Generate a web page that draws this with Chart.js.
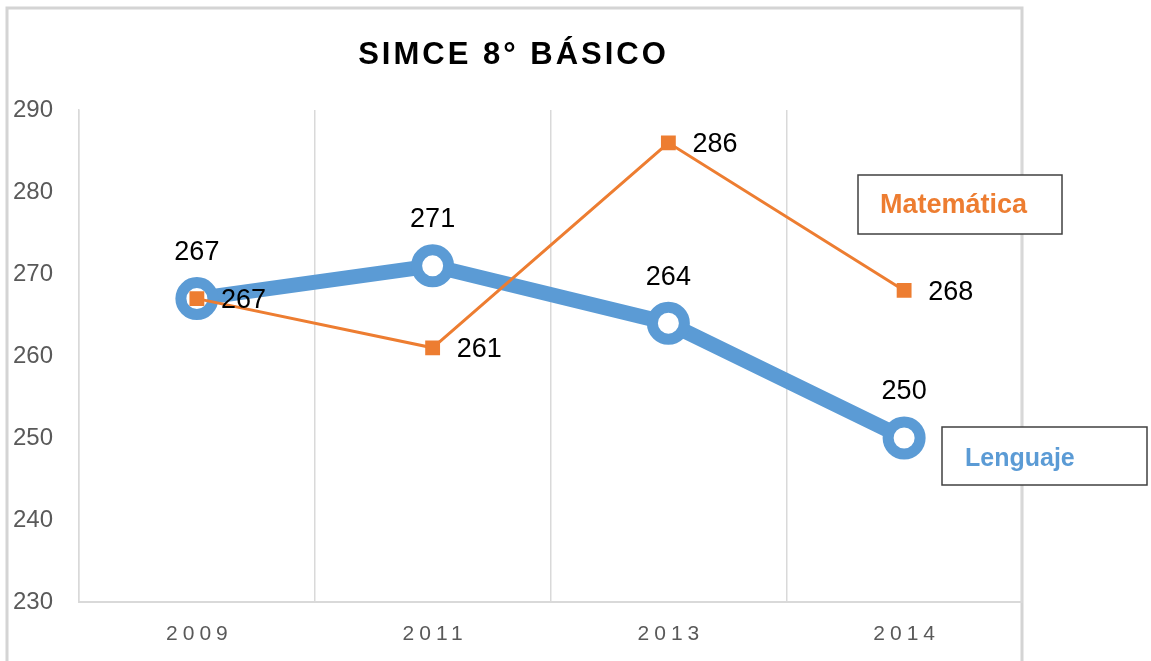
<!DOCTYPE html>
<html>
<head>
<meta charset="utf-8">
<script src="https://cdn.jsdelivr.net/npm/chart.js@4.4.1/dist/chart.umd.min.js"></script>
<style>
  html, body { margin: 0; padding: 0; background: #fff; }
  #wrap { width: 1151px; height: 661px; position: relative; }
</style>
</head>
<body>
<div id="wrap"><canvas id="chart"></canvas></div>
<script>
// values
const years = ['2009', '2011', '2013', '2014'];
const lenguaje = [267, 271, 264, 250];
const matematica = [267, 261, 286, 268];
const yTicks = [230, 240, 250, 260, 270, 280, 290];
const chartTitle = 'SIMCE 8° BÁSICO';

const BLUE = '#5B9BD5';
const ORANGE = '#ED7D31';
const GRAY_TEXT = '#595959';
const GRID = '#d9d9d9';

// frame, title, spaced year labels, value labels and the two name boxes
const decorations = {
    id: 'decorations',
    beforeDraw(chart) {
        const ctx = chart.ctx;
        ctx.save();
        ctx.fillStyle = '#fff';
        ctx.fillRect(0, 0, chart.width, chart.height);
        ctx.strokeStyle = '#d4d4d4';
        ctx.lineWidth = 3;
        ctx.beginPath();
        ctx.moveTo(7, chart.height);
        ctx.lineTo(7, 8);
        ctx.lineTo(1022, 8);
        ctx.lineTo(1022, chart.height);
        ctx.stroke();
        ctx.restore();
    },
    afterDraw(chart) {
        const ctx = chart.ctx;
        const x = chart.scales.x;
        ctx.save();

        // title
        ctx.fillStyle = '#000';
        ctx.font = 'bold 31px "Liberation Sans", Arial, sans-serif';
        ctx.letterSpacing = '3px';
        ctx.textAlign = 'center';
        ctx.textBaseline = 'middle';
        ctx.fillText(chartTitle, 512 + 1.5, 55);

        // category labels, letter spaced
        ctx.fillStyle = GRAY_TEXT;
        ctx.font = '21px "Liberation Sans", Arial, sans-serif';
        ctx.letterSpacing = '5px';
        years.forEach((yr, i) => {
            ctx.fillText(yr, x.getPixelForValue(i) + 2.5, 634);
        });
        ctx.letterSpacing = '0px';

        // value labels
        ctx.fillStyle = '#000';
        ctx.font = '27px "Liberation Sans", Arial, sans-serif';
        const lenMeta = chart.getDatasetMeta(1);
        lenMeta.data.forEach((pt, i) => {
            ctx.textAlign = 'center';
            ctx.fillText(String(lenguaje[i]), pt.x, pt.y - 46);
        });
        const matMeta = chart.getDatasetMeta(0);
        matMeta.data.forEach((pt, i) => {
            ctx.textAlign = 'left';
            ctx.fillText(String(matematica[i]), pt.x + 24, pt.y + 2);
        });

        // series name boxes
        ctx.strokeStyle = '#404040';
        ctx.lineWidth = 1.5;
        ctx.fillStyle = '#fff';
        ctx.fillRect(858, 175, 204, 59);
        ctx.strokeRect(858, 175, 204, 59);
        ctx.fillRect(942, 427, 205, 58);
        ctx.strokeRect(942, 427, 205, 58);

        ctx.font = 'bold 27px "Liberation Sans", Arial, sans-serif';
        ctx.textAlign = 'left';
        ctx.fillStyle = ORANGE;
        ctx.fillText('Matemática', 880, 206);
        ctx.fillStyle = BLUE;
        ctx.font = 'bold 25px "Liberation Sans", Arial, sans-serif';
        ctx.fillText('Lenguaje', 965, 459);

        ctx.restore();
    }
};

new Chart(document.getElementById('chart'), {
    type: 'line',
    data: {
        labels: years,
        datasets: [
            {
                label: 'Matemática',
                data: matematica,
                borderColor: ORANGE,
                backgroundColor: ORANGE,
                borderWidth: 3,
                pointStyle: 'rect',
                pointRadius: 10.5,
                pointBorderWidth: 0,
                pointBackgroundColor: ORANGE,
                tension: 0,
            },
            {
                label: 'Lenguaje',
                data: lenguaje,
                borderColor: BLUE,
                backgroundColor: '#fff',
                borderWidth: 15,
                pointStyle: 'circle',
                pointRadius: 16,
                pointBorderWidth: 11,
                pointBorderColor: BLUE,
                pointBackgroundColor: '#fff',
                tension: 0,
            },
        ],
    },
    options: {
        responsive: true,
        maintainAspectRatio: false,
        animation: false,
        layout: { padding: { left: 13, top: 110, right: 129, bottom: 0 } },
        plugins: {
            legend: { display: false },
            title: { display: false },
            tooltip: { enabled: false },
        },
        scales: {
            x: {
                type: 'category',
                offset: true,
                grid: { offset: true, color: GRID, lineWidth: 1.5, drawTicks: false },
                border: { display: true, color: GRID, width: 2 },
                ticks: { display: false },
                afterFit(scale) { scale.height = 59; },
            },
            y: {
                min: 230,
                max: 290,
                afterBuildTicks(scale) { scale.ticks = yTicks.map(v => ({ value: v })); },
                grid: { display: false },
                border: { display: true, color: GRID, width: 1.5 },
                ticks: {
                    color: GRAY_TEXT,
                    crossAlign: 'far',
                    padding: 0,
                    font: { family: '"Liberation Sans", Arial, sans-serif', size: 24 },
                },
                afterFit(scale) { scale.width = 66; },
            },
        },
    },
    plugins: [decorations],
});
</script>
</body>
</html>
